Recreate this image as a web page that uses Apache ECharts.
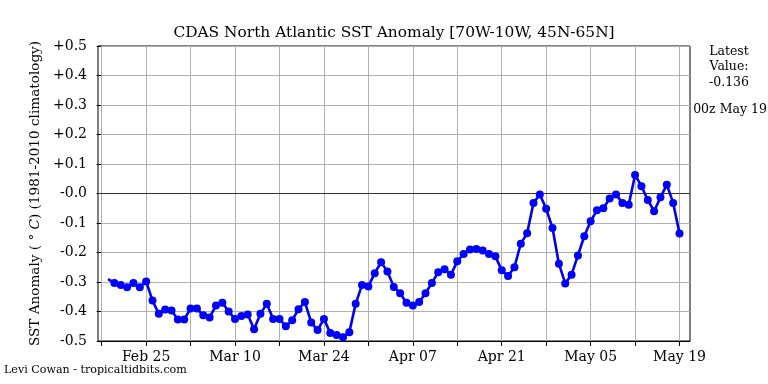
<!DOCTYPE html>
<html>
<head>
<meta charset="utf-8">
<script src="https://cdn.jsdelivr.net/npm/echarts@6/dist/echarts.min.js"></script>
<style>
html,body{margin:0;padding:0;background:#fff;}
#chart{width:768px;height:384px;}
</style>
</head>
<body>
<div id="chart"></div>
<script>
// ---- data ----
var startDate = '2024-02-19';           // first daily value
var axisStartDate = '2024-02-18';       // day 0 of the x axis
var sstAnomaly = [
  -0.290, -0.303, -0.310, -0.318, -0.303, -0.318, -0.298, -0.363, -0.408, -0.393, -0.397,  // Feb 19-29
  -0.427, -0.427, -0.390, -0.390, -0.413, -0.420, -0.380, -0.370, -0.400, -0.425,          // Mar 1-10
  -0.415, -0.410, -0.460, -0.408, -0.374, -0.425, -0.425, -0.450, -0.430, -0.392,          // Mar 11-20
  -0.368, -0.437, -0.463, -0.425, -0.473, -0.480, -0.487, -0.470, -0.374, -0.310, -0.315,  // Mar 21-31
  -0.270, -0.233, -0.264, -0.317, -0.338, -0.370, -0.380, -0.368, -0.338, -0.303,          // Apr 1-10
  -0.267, -0.257, -0.275, -0.230, -0.205, -0.190, -0.188, -0.193, -0.205, -0.213,          // Apr 11-20
  -0.260, -0.280, -0.250, -0.170, -0.135, -0.032, -0.003, -0.052, -0.117, -0.238,          // Apr 21-30
  -0.305, -0.275, -0.210, -0.145, -0.094, -0.057, -0.050, -0.017, -0.003, -0.032,          // May 1-10
  -0.038,  0.063,  0.025, -0.022, -0.060, -0.013,  0.030, -0.032, -0.136                   // May 11-19
];
var tickDays = [0, 7, 14, 21, 28, 35, 42, 49, 56, 63, 70, 77, 84, 91];
var labelDays = [7, 21, 35, 49, 63, 77, 91];
var tickLabels = ['Feb 25', 'Mar 10', 'Mar 24', 'Apr 07', 'Apr 21', 'May 05', 'May 19'];
var latestValue = '-0.136';
var latestTime = '00z May 19';

// ---- build ----
var DAY = 86400000;
var t0 = Date.parse(axisStartDate + 'T00:00:00Z');
var s0 = Date.parse(startDate + 'T00:00:00Z');
var offset = Math.round((s0 - t0) / DAY);
var seriesData = sstAnomaly.map(function (v, i) {
  var item = { value: [offset + i, v] };
  if (i === 0) item.symbol = 'none';
  return item;
});

var serif = 'DejaVu Serif';
var chart = echarts.init(document.getElementById('chart'), null, { renderer: 'canvas' });
chart.setOption({
  animation: false,
  backgroundColor: '#fff',
  grid: {
    left: 98, right: 78, top: 46, bottom: 43,
    show: true, borderColor: '#000', borderWidth: 1, backgroundColor: 'transparent'
  },
  xAxis: {
    type: 'value',
    min: -0.58, max: 92.65,
    axisLine: { onZero: false, lineStyle: { color: '#000', width: 1 } },
    axisTick: { show: true, inside: false, length: 5, customValues: tickDays, lineStyle: { color: '#000' } },
    axisLabel: {
      customValues: labelDays,
      margin: 9,
      color: '#000', fontFamily: serif, fontSize: 14,
      formatter: function (v) {
        var idx = labelDays.indexOf(Math.round(v));
        return idx >= 0 ? tickLabels[idx] : '';
      }
    },
    splitLine: { show: false }
  },
  yAxis: {
    type: 'value',
    min: -0.5, max: 0.5, interval: 0.1,
    name: 'SST Anomaly ( ° {i|C}) (1981-2010 climatology)',
    nameLocation: 'middle', nameRotate: 90, nameGap: 55,
    nameTextStyle: {
      color: '#000', fontFamily: serif, fontSize: 13.6,
      rich: { i: { fontStyle: 'italic', fontFamily: serif, fontSize: 13.6, color: '#000' } }
    },
    axisLine: { show: true, lineStyle: { color: '#000', width: 1 } },
    axisTick: { show: true, inside: false, length: 5, lineStyle: { color: '#000' } },
    axisLabel: {
      margin: 11, color: '#000', fontFamily: serif, fontSize: 14,
      formatter: function (v) {
        var r = Math.round(v * 10) / 10;
        return (r > 0 ? '+' : '-') + Math.abs(r).toFixed(1);
      }
    },
    splitLine: { show: true, lineStyle: { color: '#b0b0b0', width: 1 } }
  },
  series: [
    {
      type: 'line', data: [], silent: true,
      markLine: {
        silent: true, symbol: 'none', label: { show: false },
        lineStyle: { color: '#b0b0b0', width: 1, type: 'solid' },
        data: tickDays.map(function (d) { return { xAxis: d }; })
      }
    },
    {
      type: 'line', data: [], silent: true,
      markLine: {
        silent: true, symbol: 'none', label: { show: false },
        lineStyle: { color: '#333', width: 1.2, type: 'solid' },
        data: [{ yAxis: 0 }]
      }
    },
    {
      name: 'SST Anomaly',
      type: 'line',
      data: seriesData,
      symbol: 'circle', symbolSize: 8,
      showAllSymbol: true,
      lineStyle: { color: '#0000ee', width: 2.6 },
      itemStyle: { color: '#0000ff' },
      z: 5
    }
  ],
  graphic: [
    {
      type: 'text', x: 394, y: 33,
      style: { text: 'CDAS North Atlantic SST Anomaly [70W-10W, 45N-65N]', fontFamily: serif, fontSize: 15.4,
               fill: '#000', align: 'center', verticalAlign: 'middle' }
    },
    {
      type: 'text', x: 729, y: 67,
      style: { text: 'Latest\nValue:\n' + latestValue, fontFamily: serif, fontSize: 12.5, lineHeight: 15.5,
               fill: '#000', align: 'center', verticalAlign: 'middle' }
    },
    {
      type: 'text', x: 730, y: 110,
      style: { text: latestTime, fontFamily: serif, fontSize: 12.5,
               fill: '#000', align: 'center', verticalAlign: 'middle' }
    },
    {
      type: 'text', x: 4, y: 370,
      style: { text: 'Levi Cowan - tropicaltidbits.com', fontFamily: serif, fontSize: 11.1,
               fill: '#000', align: 'left', verticalAlign: 'middle' }
    }
  ]
});
</script>
</body>
</html>
